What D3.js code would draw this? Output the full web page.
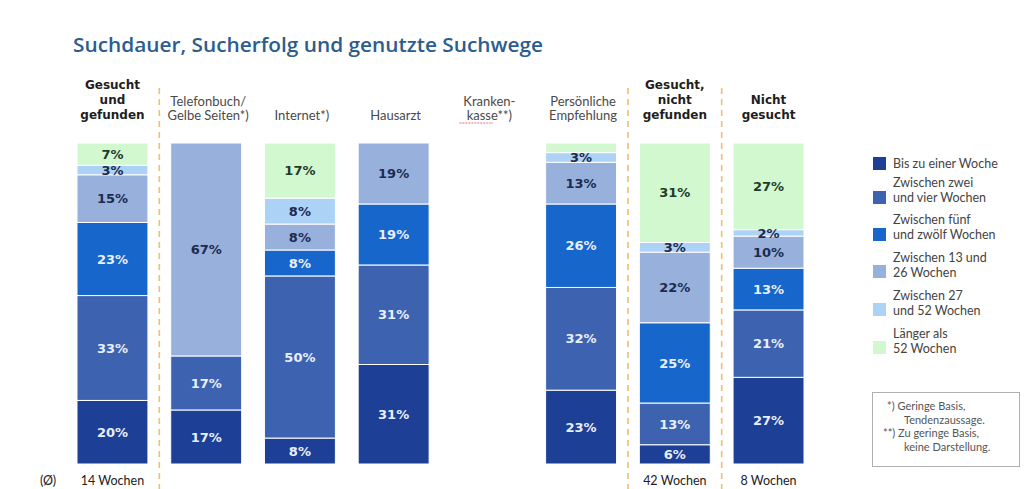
<!DOCTYPE html>
<html><head><meta charset="utf-8">
<script src="https://cdn.jsdelivr.net/npm/d3@7"></script>
<style>
html,body{margin:0;padding:0;background:#fff;}
svg{display:block;}
</style></head>
<body>
<svg id="chart" width="1026" height="489"></svg>
<script>
// ---------- data ----------
const title = "Suchdauer, Sucherfolg und genutzte Suchwege";
const categories = ["Gesucht und gefunden","Telefonbuch/Gelbe Seiten*)","Internet*)","Hausarzt","Krankenkasse**)","Persönliche Empfehlung","Gesucht, nicht gefunden","Nicht gesucht"];
const headerLines = [["Gesucht","und","gefunden"],["Telefonbuch/","Gelbe Seiten*)"],["Internet*)"],["Hausarzt"],["Kranken-","kasse**)"],["Persönliche","Empfehlung"],["Gesucht,","nicht","gefunden"],["Nicht","gesucht"]];
const headerBold = [true,false,false,false,false,false,true,true];
const seriesNames = ["Bis zu einer Woche","Zwischen zwei und vier Wochen","Zwischen fünf und zwölf Wochen","Zwischen 13 und 26 Wochen","Zwischen 27 und 52 Wochen","Länger als 52 Wochen"];
const legendLines = [["Bis zu einer Woche"],["Zwischen zwei","und vier Wochen"],["Zwischen fünf","und zwölf Wochen"],["Zwischen 13 und","26 Wochen"],["Zwischen 27","und 52 Wochen"],["Länger als","52 Wochen"]];
const bisEineWoche   = [20, 17,  8, 31, null, 23,  6, 27];
const zweiBisVier    = [33, 17, 50, 31, null, 32, 13, 21];
const fuenfBisZwoelf = [23,  0,  8, 19, null, 26, 25, 13];
const dreizehnBis26  = [15, 67,  8, 19, null, 13, 22, 10];
const siebenundzw52  = [ 3,  0,  8,  0, null,  3,  3,  2];
const laenger52      = [ 7,  0, 17,  0, null,  3, 31, 27];
const seriesValues = [bisEineWoche, zweiBisVier, fuenfBisZwoelf, dreizehnBis26, siebenundzw52, laenger52];
const hiddenLabels = [[5,5]]; // [seriesIndex, categoryIndex] without printed label
const averages = ["14 Wochen","","","","","","42 Wochen","8 Wochen"];
const averageMarker = "(Ø)";
const footnotes = [["*) Geringe Basis,",0],["Tendenzaussage.",1],["**) Zu geringe Basis,",0],["keine Darstellung.",1]];
const separatorsAfter = [0,5,6];

// ---------- styles ----------
const colors = ["#1d3f95","#3d63b0","#1666cc","#98b1dc","#acd2f6","#d2f8d0"];
const labelColors = ["#e9effa","#e9effa","#e9effa","#1b2b50","#1b2b50","#1f3a2a"];

const svg = d3.select("#chart");
const keys = seriesNames;
const rows = categories.map((c,i)=>{
  const r = {cat:c, idx:i};
  keys.forEach((k,s)=> r[k] = seriesValues[s][i] == null ? 0 : seriesValues[s][i]);
  return r;
});
const x = d3.scaleBand().domain(categories).range([65.6, 815.4]).paddingInner(0.243).paddingOuter(0.1215);
const y = d3.scaleLinear().domain([0,1]).range([464,143]);
const stacked = d3.stack().keys(keys).offset(d3.stackOffsetExpand)(rows.filter(r=>seriesValues[0][r.idx]!=null));

// title
svg.append("text").attr("x",73).attr("y",52).text(title)
  .attr("font-family","'Open Sans', sans-serif").attr("font-weight",600).attr("font-size",20)
  .attr("fill","#2c5d8e").attr("textLength",470).attr("lengthAdjust","spacingAndGlyphs");

// separators
separatorsAfter.forEach(i=>{
  const xa = x(categories[i]) + x.bandwidth();
  const xb = x(categories[i+1]);
  const xm = (xa+xb)/2;
  svg.append("line").attr("x1",xm).attr("x2",xm).attr("y1",88).attr("y2",489)
    .attr("stroke","#f0bf6a").attr("stroke-width",1.6).attr("stroke-dasharray","6,5");
});

// bars
const g = svg.append("g");
stacked.forEach((layer,s)=>{
  g.selectAll(null).data(layer).enter().append("rect")
    .attr("x",d=>x(d.data.cat)).attr("width",x.bandwidth())
    .attr("y",d=>y(d[1])).attr("height",d=>Math.max(0,y(d[0])-y(d[1])))
    .attr("fill",colors[s]).attr("stroke","#ffffff").attr("stroke-width",1);
});
stacked.forEach((layer,s)=>{
  g.selectAll(null).data(layer.filter(d=>d.data[keys[s]]>0 && !hiddenLabels.some(h=>h[0]===s&&h[1]===d.data.idx)))
    .enter().append("text")
    .attr("x",d=>x(d.data.cat)+x.bandwidth()/2)
    .attr("y",d=>(y(d[0])+y(d[1]))/2)
    .attr("dy","0.36em").attr("text-anchor","middle")
    .attr("font-family","DejaVu Sans, Verdana, sans-serif").attr("font-weight","bold").attr("font-size",13)
    .attr("fill",labelColors[s])
    .text(d=>d.data[keys[s]]+"%");
});

// headers
headerLines.forEach((lines,i)=>{
  const cx = x(categories[i]) + x.bandwidth()/2 + (headerBold[i]?0:2);
  const bold = headerBold[i];
  const base = bold ? (lines.length===3?89:104) : (lines.length===2?106:120);
  lines.forEach((ln,j)=>{
    svg.append("text").attr("x",cx).attr("y",base+j*(bold?15:14)).attr("text-anchor","middle")
      .attr("font-family", bold ? "DejaVu Sans, Verdana, sans-serif" : "Lato, sans-serif")
      .attr("font-weight", bold ? "bold":"normal").attr("font-size", bold?12:13)
      .attr("fill", bold ? "#1e1e1e" : "#4a4a4a").text(ln);
  });
});
// spell-check underline under "kasse"
{
  const cx = x(categories[4]) + x.bandwidth()/2 + 2;
  svg.append("line").attr("x1",cx-30).attr("x2",cx+4).attr("y1",123).attr("y2",123)
    .attr("stroke","#e07070").attr("stroke-width",1).attr("stroke-dasharray","2,1");
}

// averages
svg.append("text").attr("x",40).attr("y",485).text(averageMarker)
  .attr("font-family","Lato, sans-serif").attr("font-size",12.5).attr("fill","#222");
averages.forEach((a,i)=>{
  if(!a) return;
  svg.append("text").attr("x",x(categories[i])+x.bandwidth()/2).attr("y",485).attr("text-anchor","middle")
    .attr("font-family","Lato, sans-serif").attr("font-size",12.5).attr("fill","#222").text(a);
});

// legend
const legTop = [157,191,228,265,303,341];
const legText = [[168],[187,202],[224,239],[262,277],[300,315],[338,353]];
seriesNames.forEach((n,s)=>{
  svg.append("rect").attr("x",873).attr("y",legTop[s]).attr("width",13).attr("height",13).attr("fill",colors[s]);
  legendLines[s].forEach((ln,j)=>{
    svg.append("text").attr("x",893).attr("y",legText[s][j]).text(ln)
      .attr("font-family","Lato, sans-serif").attr("font-size",12.5).attr("fill","#444");
  });
});

// footnote box
svg.append("rect").attr("x",872.5).attr("y",392.5).attr("width",147).attr("height",74)
  .attr("fill","#fff").attr("stroke","#b0b0b0").attr("stroke-width",1);
footnotes.forEach((f,j)=>{
  svg.append("text").attr("x", f[1] ? 904 : (j===0?887:883)).attr("y",410+j*13.5).text(f[0])
    .attr("font-family","Lato, sans-serif").attr("font-size",11).attr("fill","#555");
});
</script>
</body></html>
